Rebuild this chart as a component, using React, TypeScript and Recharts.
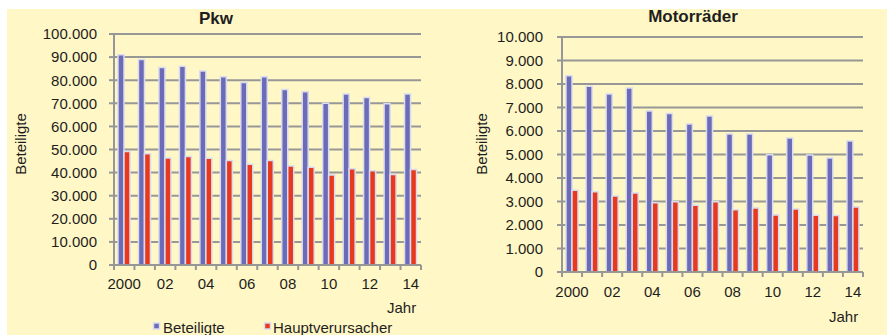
import React from 'react';
import { BarChart, Bar, XAxis, YAxis, CartesianGrid } from 'recharts';

const years = ['2000','2001','2002','2003','2004','2005','2006','2007','2008','2009','2010','2011','2012','2013','2014'];
const yearLabels = ['2000','','02','','04','','06','','08','','10','','12','','14'];

const pkwBeteiligte = [91000, 89000, 85500, 86000, 84000, 81500, 79000, 81500, 76000, 75000, 70000, 74000, 72500, 69800, 74000];
const pkwHauptverursacher = [49100, 48200, 46300, 47000, 46200, 45200, 43600, 45200, 42900, 42300, 39000, 41700, 40800, 39200, 41300];
const motoBeteiligte = [8350, 7900, 7570, 7830, 6850, 6740, 6300, 6640, 5870, 5870, 4990, 5700, 4980, 4850, 5570];
const motoHauptverursacher = [3475, 3420, 3230, 3360, 2950, 2990, 2840, 2990, 2650, 2720, 2430, 2680, 2410, 2400, 2770];

const pkwTicks = [0, 10000, 20000, 30000, 40000, 50000, 60000, 70000, 80000, 90000, 100000];
const pkwTickLabels = ['0', '10.000', '20.000', '30.000', '40.000', '50.000', '60.000', '70.000', '80.000', '90.000', '100.000'];
const motoTicks = [0, 1000, 2000, 3000, 4000, 5000, 6000, 7000, 8000, 9000, 10000];
const motoTickLabels = ['0', '1.000', '2.000', '3.000', '4.000', '5.000', '6.000', '7.000', '8.000', '9.000', '10.000'];

const seriesNames = ['Beteiligte', 'Hauptverursacher'];

const BG = '#fff7c5';
const GRID = '#979797';
const BLUE = '#6b6bb7';
const RED = '#e8381d';
const HALO = '#d9dbee';
const TEXT = '#1e1e1e';
const FONT = '"Liberation Sans", Arial, sans-serif';

const pkwData = years.map((y, i) => ({ year: y, b: pkwBeteiligte[i], h: pkwHauptverursacher[i] }));
const motoData = years.map((y, i) => ({ year: y, b: motoBeteiligte[i], h: motoHauptverursacher[i] }));

type PanelProps = {
  data: any[];
  ticks: number[];
  tickLabels: string[];
  left: number;
  width: number;
  yAxisWidth: number;
  margin: { top: number; right: number; bottom: number; left: number };
  labelGap: number;
  tickMargin: number;
};

function Panel({ data, ticks, tickLabels, left, width, yAxisWidth, margin, labelGap, tickMargin }: PanelProps) {
  const plotWidth = width - margin.left - margin.right - yAxisWidth;
  const bw = plotWidth / data.length;
  const XTick = (props: any) => {
    const { x, y, payload } = props;
    const idx = years.indexOf(payload.value);
    const label = yearLabels[idx];
    return (
      <g>
        <line x1={x - bw / 2} x2={x - bw / 2} y1={y} y2={y + 5} stroke={GRID} strokeWidth={2} />
        {idx === data.length - 1 && (
          <line x1={x + bw / 2} x2={x + bw / 2} y1={y} y2={y + 5} stroke={GRID} strokeWidth={2} />
        )}
        <text x={x} y={y + labelGap} dy="0.71em" textAnchor="middle" fill={TEXT} fontSize={15} fontFamily={FONT}>
          {label}
        </text>
      </g>
    );
  };
  return (
    <div style={{ position: 'absolute', left, top: 0 }}>
      <BarChart width={width} height={335} data={data} margin={margin} barGap={0} barCategoryGap={0}>
        <CartesianGrid vertical={false} stroke={GRID} strokeWidth={2} />
        <XAxis
          dataKey="year"
          interval={0}
          tickLine={false}
          tickSize={0}
          tickMargin={0}
          height={30}
          axisLine={{ stroke: GRID, strokeWidth: 2 }}
          tick={<XTick />}
        />
        <YAxis
          type="number"
          domain={[0, ticks[ticks.length - 1]]}
          ticks={ticks}
          interval={0}
          width={yAxisWidth}
          tickSize={5}
          tickMargin={tickMargin}
          axisLine={{ stroke: GRID, strokeWidth: 2 }}
          tickLine={{ stroke: GRID, strokeWidth: 2 }}
          tick={{ fill: TEXT, fontSize: 15, fontFamily: FONT }}
          tickFormatter={(v: number) => tickLabels[ticks.indexOf(v)]}
        />
        <Bar dataKey="b" name={seriesNames[0]} fill={BLUE} stroke={HALO} strokeWidth={1.5} barSize={6} isAnimationActive={false} />
        <Bar dataKey="h" name={seriesNames[1]} fill={RED} stroke={HALO} strokeWidth={1.5} barSize={6} isAnimationActive={false} />
      </BarChart>
    </div>
  );
}

export default function App() {
  return (
    <div style={{ position: 'absolute', left: 0, top: 0, width: 892, height: 335, background: '#ffffff', overflow: 'hidden', fontFamily: FONT }}>
      <div style={{ position: 'absolute', left: 7, top: 9, width: 880, height: 326, background: BG }} />
      <Panel
        data={pkwData}
        ticks={pkwTicks}
        tickLabels={pkwTickLabels}
        left={0}
        width={446}
        yAxisWidth={114}
        margin={{ top: 34, right: 25, bottom: 40, left: 0 }}
        labelGap={13}
        tickMargin={12}
      />
      <Panel
        data={motoData}
        ticks={motoTicks}
        tickLabels={motoTickLabels}
        left={446}
        width={446}
        yAxisWidth={116}
        margin={{ top: 37, right: 29, bottom: 33, left: 0 }}
        labelGap={14}
        tickMargin={14}
      />
      <svg width={892} height={335} style={{ position: 'absolute', left: 0, top: 0, pointerEvents: 'none' }}>
        <text x={216} y={24} textAnchor="middle" fontWeight="bold" fontSize={17} fill={TEXT} fontFamily={FONT}>Pkw</text>
        <text x={693} y={22} textAnchor="middle" fontWeight="bold" fontSize={17} fill={TEXT} fontFamily={FONT}>Motorräder</text>
        <text transform="translate(25.5,144) rotate(-90)" textAnchor="middle" fontSize={15} fill={TEXT} fontFamily={FONT}>Beteiligte</text>
        <text transform="translate(486.5,144) rotate(-90)" textAnchor="middle" fontSize={15} fill={TEXT} fontFamily={FONT}>Beteiligte</text>
        <text x={387} y={313} fontSize={15} fill={TEXT} fontFamily={FONT}>Jahr</text>
        <text x={829} y={322} fontSize={15} fill={TEXT} fontFamily={FONT}>Jahr</text>
        <rect x={153.5} y={323} width={6} height={6} fill={BLUE} stroke={HALO} strokeWidth={1.5} />
        <text x={163} y={333} fontSize={15} fill={TEXT} fontFamily={FONT}>{seriesNames[0]}</text>
        <rect x={264.5} y={323} width={6} height={6} fill={RED} stroke={HALO} strokeWidth={1.5} />
        <text x={273} y={333} fontSize={15} fill={TEXT} fontFamily={FONT}>{seriesNames[1]}</text>
      </svg>
    </div>
  );
}
